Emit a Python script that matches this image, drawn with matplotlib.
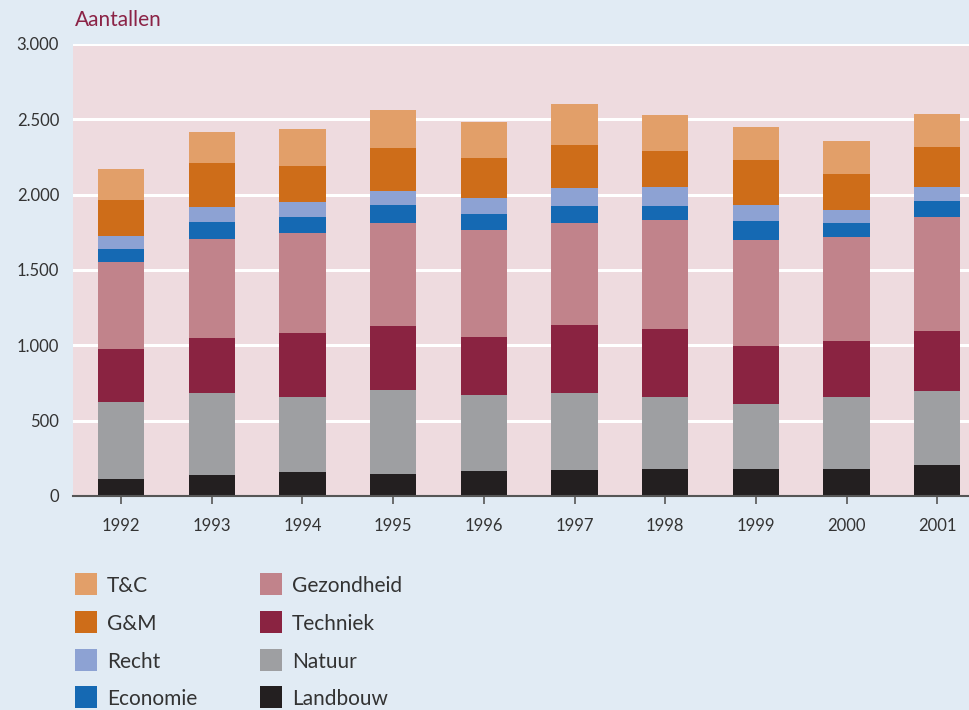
import matplotlib
matplotlib.use("Agg")
import matplotlib.pyplot as plt
from matplotlib.patches import Rectangle
import numpy as np

years = ["1992", "1993", "1994", "1995", "1996", "1997", "1998", "1999", "2000", "2001"]

landbouw   = [113, 139, 159, 146, 166, 172, 179, 179, 179, 205]
natuur     = [509, 543, 497, 556, 503, 510, 477, 430, 477, 490]
techniek   = [354, 364, 423, 424, 384, 450, 450, 384, 370, 398]
gezondheid = [580, 663, 669, 689, 715, 683, 728, 709, 696, 761]
economie   = [86, 112, 106, 119, 106, 112, 93, 126, 93, 106]
recht      = [86, 100, 100, 92, 106, 119, 126, 106, 86, 93]
gm         = [234, 287, 234, 281, 265, 285, 238, 298, 238, 265]
tc         = [210, 209, 249, 256, 238, 272, 239, 218, 219, 218]

series_names = ["Landbouw", "Natuur", "Techniek", "Gezondheid", "Economie", "Recht", "G&M", "T&C"]
series_vals = [landbouw, natuur, techniek, gezondheid, economie, recht, gm, tc]
colors = {
    "Landbouw": "#231f20",
    "Natuur": "#9e9fa2",
    "Techniek": "#8a2341",
    "Gezondheid": "#c1838b",
    "Economie": "#1569b3",
    "Recht": "#8da2d3",
    "G&M": "#ce6d19",
    "T&C": "#e29f69",
}
yticks = [0, 500, 1000, 1500, 2000, 2500, 3000]
ytick_labels = ["0", "500", "1.000", "1.500", "2.000", "2.500", "3.000"]

plt.rcParams["font.family"] = ["Lato", "DejaVu Sans"]
text_color = "#333333"

fig = plt.figure(figsize=(9.69, 7.10), dpi=100)
fig.patch.set_facecolor("#e1ebf4")
ax = fig.add_axes([73 / 969, 1 - 496 / 710, 1 - 73 / 969, (496 - 44) / 710])
ax.set_facecolor("#eedbdf")

x = np.arange(len(years))
bottom = np.zeros(len(years))
for name, vals in zip(series_names, series_vals):
    ax.bar(x, vals, bottom=bottom, width=0.51, color=colors[name], zorder=3, linewidth=0)
    bottom += np.array(vals)

ax.set_xlim(-0.53, 9.35)
ax.set_ylim(0, 3000)
ax.set_yticks(yticks)
ax.set_yticklabels(ytick_labels, fontsize=12, color=text_color)
ax.set_xticks(x)
ax.set_xticklabels(years, fontsize=12, color=text_color)
ax.tick_params(axis="y", length=0, pad=10)
ax.tick_params(axis="x", length=6, width=1.2, color="#555555", pad=10, direction="out")
for s in ["top", "right", "left"]:
    ax.spines[s].set_visible(False)
ax.spines["bottom"].set_color("#555555")
ax.spines["bottom"].set_linewidth(1.5)
ax.spines["bottom"].set_zorder(4)
ax.yaxis.grid(True, color="white", linewidth=2.2, zorder=1)
ax.set_axisbelow(True)

fig.text(75 / 969, 1 - 20 / 710, "Aantallen", fontsize=15, color="#8b2346", va="center", ha="left")

# legend (manual, two columns)
legend_cols = [["T&C", "G&M", "Recht", "Economie"], ["Gezondheid", "Techniek", "Natuur", "Landbouw"]]
col_x = [75, 260]
row_y = [584, 622, 660, 697]
sq = 22
for ci, col in enumerate(legend_cols):
    for ri, name in enumerate(col):
        cx, cy = col_x[ci], row_y[ri]
        fig.add_artist(Rectangle((cx / 969, 1 - (cy + sq / 2) / 710), sq / 969, sq / 710,
                                 transform=fig.transFigure, facecolor=colors[name], edgecolor="none"))
        fig.text((cx + sq + 10) / 969, 1 - (cy + 2) / 710, name, fontsize=15, color=text_color,
                 va="center", ha="left")

fig.savefig("out.png", dpi=100, facecolor=fig.get_facecolor())
